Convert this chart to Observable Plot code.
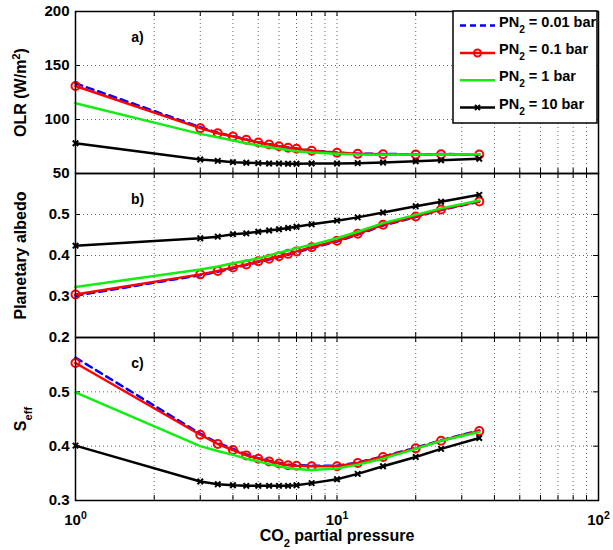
<!DOCTYPE html>
<html><head><meta charset="utf-8">
<script src="https://cdn.jsdelivr.net/npm/d3@7"></script>
<script src="https://cdn.jsdelivr.net/npm/@observablehq/plot@0.6"></script>
<style>
body{margin:0;background:#fff;}
#wrap{position:relative;width:613px;height:550px;background:#fff;font-family:"Liberation Sans",Arial,sans-serif;}
#wrap svg{display:block;overflow:visible;}
</style></head><body><div id="wrap"></div>
<script>
// ---- data ----
const co2 = [1,3,3.5,4,4.5,5,5.5,6,6.5,7,8,10,12,15,20,25,35];
const seriesNames = ["PN_{2} = 0.01 bar","PN_{2} = 0.1 bar","PN_{2} = 1 bar","PN_{2} = 10 bar"];
const seriesColors = ["#0000ff","#ff0000","#11ee11","#000000"];

const olr001 = [133.5,92.8,87.7,84.6,81.5,79.0,77.2,75.6,74.1,73.1,71.2,69.4,68.4,68.1,67.8,68.0,67.8];
const olr01  = [131,92,87.3,84.3,81.2,78.7,76.9,75.3,73.8,72.9,71,69.2,68.2,67.9,67.6,67.9,67.6];
const olr1   = [115,86.7,83.5,80.6,78.1,75.9,74.3,72.9,71.7,70.7,69.4,68.2,67.5,67.4,67.5,67.6,67.8];
const olr10  = [78,63,61.7,60.5,59.9,59.6,59.3,59.3,59,59,59.3,59.3,59.6,60.2,61.4,62.2,63.6];

const alb001 = [0.302,0.352,0.360,0.369,0.377,0.384,0.390,0.396,0.402,0.408,0.418,0.434,0.451,0.473,0.494,0.511,0.531];
const alb01  = [0.305,0.354,0.362,0.371,0.378,0.386,0.392,0.398,0.404,0.410,0.420,0.436,0.453,0.475,0.495,0.512,0.532];
const alb1   = [0.323,0.366,0.373,0.381,0.387,0.393,0.400,0.407,0.412,0.418,0.426,0.442,0.458,0.479,0.499,0.515,0.534];
const alb10  = [0.424,0.442,0.446,0.452,0.454,0.458,0.461,0.464,0.467,0.470,0.476,0.485,0.493,0.505,0.520,0.531,0.548];

const seff001 = [0.563,0.423,0.406,0.395,0.385,0.378,0.373,0.369,0.366,0.365,0.364,0.364,0.370,0.381,0.397,0.411,0.429];
const seff01  = [0.553,0.421,0.404,0.393,0.383,0.377,0.372,0.368,0.365,0.364,0.363,0.363,0.369,0.380,0.396,0.410,0.428];
const seff1   = [0.499,0.400,0.391,0.384,0.377,0.372,0.367,0.363,0.360,0.358,0.356,0.359,0.366,0.377,0.395,0.410,0.426];
const seff10  = [0.401,0.335,0.330,0.328,0.327,0.327,0.327,0.327,0.327,0.328,0.332,0.339,0.349,0.363,0.380,0.395,0.415];

const xTickVals = [1,2,3,4,5,6,7,8,9,10,20,30,40,50,60,70,80,90,100];
const xGridVals = [2,3,4,5,6,7,8,9,10,20,30,40,50,60,70,80,90];
const xLabelVals = [1,10,100];

// ---- layout ----
const W = 613, ML = 75, MR = 15;
const FONT = "Liberation Sans, Arial, Helvetica, sans-serif";

function panel(o){
  const innerW = W - ML - MR;
  const innerH = o.height - o.marginTop - o.marginBottom;
  const data = o.values.map(arr => arr.map((v,i)=>({x: co2[i], y: v})));
  const ax = {stroke:"#000", strokeWidth:1};
  const marks = [
    Plot.gridX(xGridVals, {stroke:"#000", strokeOpacity:0.6, strokeDasharray:"1,3", strokeWidth:1}),
    Plot.gridY(o.yGrid, {stroke:"#000", strokeOpacity:0.6, strokeDasharray:"1,3", strokeWidth:1}),
    Plot.tickY(o.yTicks, {y:d=>d, insetRight: innerW-5, ...ax}),
    Plot.tickY(o.yTicks, {y:d=>d, insetLeft: innerW-5, ...ax}),
    Plot.tickX(xTickVals, {x:d=>d, insetBottom: innerH-5, ...ax}),
    Plot.tickX(xTickVals, {x:d=>d, insetTop: innerH-5, ...ax}),
    Plot.axisY(o.yLabels, {anchor:"left", tickSize:0, tickPadding:6, label:null, tickFormat:d=>String(d), fontSize:15, fontWeight:"bold", fill:"#000"}),
    Plot.line(data[0], {x:"x", y:"y", stroke:seriesColors[0], strokeWidth:2.5, strokeDasharray:"7,5"}),
    Plot.line(data[1], {x:"x", y:"y", stroke:seriesColors[1], strokeWidth:2.5}),
    Plot.dot(data[1], {x:"x", y:"y", stroke:seriesColors[1], r:4, strokeWidth:2, fill:"none"}),
    Plot.line(data[2], {x:"x", y:"y", stroke:seriesColors[2], strokeWidth:2.5}),
    Plot.line(data[3], {x:"x", y:"y", stroke:seriesColors[3], strokeWidth:2.5}),
    Plot.dot(data[3], {x:"x", y:"y", stroke:seriesColors[3], symbol:"times", r:2.6, strokeWidth:2}),
    Plot.frame({stroke:"#000", strokeWidth:1.5}),
    Plot.text([o.tag], {frameAnchor:"top-left", dx:62, dy:26, text:d=>d, textAnchor:"middle", lineAnchor:"middle", fontSize:14, fontWeight:"bold", fill:"#000"}),
    Plot.text([o.ylabel], {frameAnchor:"left", dx:-50, rotate:-90, text:d=>d, textAnchor:"middle", lineAnchor:"bottom", fontSize:16, fontWeight:"bold", fill:"#000"})
  ];
  if (o.xAxis) {
    marks.push(Plot.axisX(xLabelVals, {anchor:"bottom", tickSize:0, tickPadding:14, label:null, tickFormat:d=>"10^{"+Math.round(Math.log10(d))+"}", fontSize:15, fontWeight:"bold", fill:"#000"}));
    marks.push(Plot.text(["CO_{2} partial pressure"], {frameAnchor:"bottom", dy:35, text:d=>d, textAnchor:"middle", lineAnchor:"middle", fontSize:16, fontWeight:"bold", fill:"#000"}));
  }
  return Plot.plot({
    width: W, height: o.height,
    marginLeft: ML, marginRight: MR, marginTop: o.marginTop, marginBottom: o.marginBottom,
    style: {fontFamily: FONT, background:"transparent", color:"#000", overflow:"visible"},
    x: {type:"log", domain:[1,100], axis: o.xAxis ? undefined : null},
    y: {domain:o.domain},
    marks
  });
}

function rich(root){
  root.querySelectorAll("text").forEach(t=>{
    const s = t.textContent;
    if(!/[\^_]\{/.test(s)) return;
    const parts = s.split(/([\^_]\{[^}]*\})/);
    t.textContent = "";
    parts.forEach(p=>{
      if(!p) return;
      const ts = document.createElementNS("http://www.w3.org/2000/svg","tspan");
      const m = p.match(/^([\^_])\{([^}]*)\}$/);
      if(m){ ts.textContent = m[2]; ts.setAttribute("font-size","70%"); ts.setAttribute("baseline-shift", m[1]==="^" ? "super" : "sub"); }
      else ts.textContent = p;
      t.appendChild(ts);
    });
  });
}

const wrap = document.getElementById("wrap");
const pa = panel({values:[olr001,olr01,olr1,olr10], domain:[50,200], yTicks:[50,100,150,200], yLabels:[50,100,150,200], yGrid:[100,150],
  height:173, marginTop:11, marginBottom:0, tag:"a)", ylabel:"OLR (W/m^{2})", xAxis:false});
const pb = panel({values:[alb001,alb01,alb1,alb10], domain:[0.2,0.6], yTicks:[0.2,0.3,0.4,0.5,0.6], yLabels:[0.2,0.3,0.4,0.5], yGrid:[0.3,0.4,0.5],
  height:164, marginTop:0, marginBottom:0, tag:"b)", ylabel:"Planetary albedo", xAxis:false});
const pc = panel({values:[seff001,seff01,seff1,seff10], domain:[0.3,0.6], yTicks:[0.3,0.4,0.5,0.6], yLabels:[0.3,0.4,0.5], yGrid:[0.4,0.5],
  height:213, marginTop:0, marginBottom:50, tag:"c)", ylabel:"S_{eff}", xAxis:true});
[pa,pb,pc].forEach(p=>{ wrap.appendChild(p); rich(p); });

// ---- legend ----
const leg = d3.create("svg").attr("width",148).attr("height",116)
  .style("position","absolute").style("left","452px").style("top","10px")
  .style("font-family",FONT).style("overflow","visible");
leg.append("rect").attr("x",1).attr("y",1).attr("width",144).attr("height",112).attr("fill","#fff").attr("stroke","#000").attr("stroke-width",1.5);
const rowY = [15.5, 43, 70.3, 97.5];
seriesNames.forEach((name,i)=>{
  const y = rowY[i];
  const l = leg.append("line").attr("x1",8).attr("x2",43).attr("y1",y).attr("y2",y).attr("stroke",seriesColors[i]).attr("stroke-width",2.5);
  if(i===0) l.attr("stroke-dasharray","6,4");
  if(i===1) leg.append("circle").attr("cx",25.5).attr("cy",y).attr("r",3.5).attr("fill","none").attr("stroke",seriesColors[i]).attr("stroke-width",2);
  if(i===3) leg.append("path").attr("d",`M${25.5-2.5},${y-2.5}L${25.5+2.5},${y+2.5}M${25.5-2.5},${y+2.5}L${25.5+2.5},${y-2.5}`).attr("stroke","#000").attr("stroke-width",2);
  leg.append("text").attr("x",47).attr("y",y+1).attr("font-size",14.5).attr("font-weight","bold").attr("fill","#000").text(name);
});
wrap.appendChild(leg.node());
rich(leg.node());
</script></body></html>
